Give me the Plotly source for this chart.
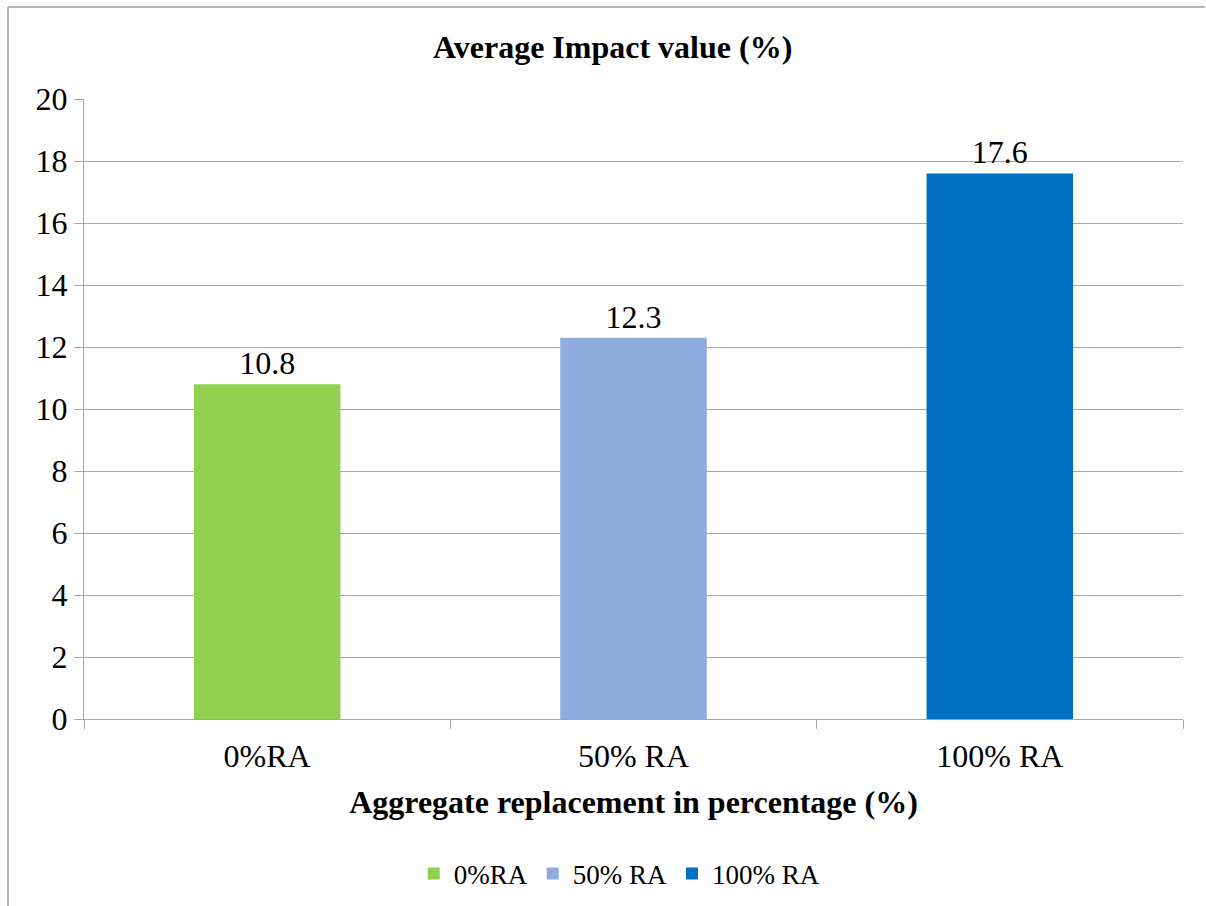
import plotly.graph_objects as go

categories = ["0%RA", "50% RA", "100% RA"]
impact_values = [10.8, 12.3, 17.6]
bar_colors = ["#92D050", "#8FACDE", "#0070C0"]
y_ticks = [0, 2, 4, 6, 8, 10, 12, 14, 16, 18, 20]

FONT = "Liberation Serif, Times New Roman, serif"
GRID = "#A6A6A6"

fig = go.Figure()
for cat, val, col in zip(categories, impact_values, bar_colors):
    fig.add_trace(go.Bar(
        x=[cat], y=[val], name=cat,
        marker=dict(color=col, line=dict(width=0)),
        width=0.4,
        text=[f"{val}"], textposition="outside",
        textfont=dict(family=FONT, size=32, color="black"),
        cliponaxis=False,
    ))

fig.update_layout(
    width=1206, height=906,
    margin=dict(l=84, r=23, t=99, b=187, autoexpand=False),
    paper_bgcolor="white", plot_bgcolor="white",
    barmode="overlay",
    font=dict(family=FONT, color="black"),
    title=dict(text="<b>Average Impact value (%)</b>", x=0.508, xanchor="center",
               y=1 - 47 / 906, yanchor="middle",
               font=dict(family=FONT, size=32, color="black")),
    legend=dict(orientation="h", x=0.487, xanchor="center",
                yref="container", y=1 - 874 / 906, yanchor="middle",
                font=dict(family=FONT, size=27, color="black"),
                itemwidth=30, itemclick=False, traceorder="normal"),
    showlegend=True,
)

fig.update_xaxes(
    type="category", categoryorder="array", categoryarray=categories,
    automargin=False,
    showline=True, linecolor=GRID, linewidth=1.3,
    ticks="outside", tickson="boundaries", ticklen=9, tickcolor=GRID, tickwidth=1.3,
    ticklabelstandoff=8,
    tickfont=dict(family=FONT, size=32, color="black"),
    showgrid=False,
    title=dict(text="<b>Aggregate replacement in percentage (%)</b>",
               font=dict(family=FONT, size=32, color="black"), standoff=18),
)
fig.update_yaxes(
    range=[0, 20], tickvals=y_ticks,
    automargin=False,
    showline=True, linecolor=GRID, linewidth=1.3,
    ticks="outside", ticklen=9, tickcolor=GRID, tickwidth=1.3,
    showgrid=True, gridcolor=GRID, gridwidth=1.3,
    zeroline=False,
    tickfont=dict(family=FONT, size=32, color="black"),
)

# chart frame edges (left and top)
fig.add_shape(type="line", xref="paper", yref="paper",
              x0=-76 / 1099, x1=-76 / 1099, y0=(719 - 906) / 620, y1=(719 - 7) / 620,
              line=dict(color="#A0A0A0", width=1.5))
fig.add_shape(type="line", xref="paper", yref="paper",
              x0=-76 / 1099, x1=(1205 - 84) / 1099, y0=(719 - 7) / 620, y1=(719 - 7) / 620,
              line=dict(color="#A0A0A0", width=1.5))

fig.write_html("out.html")
